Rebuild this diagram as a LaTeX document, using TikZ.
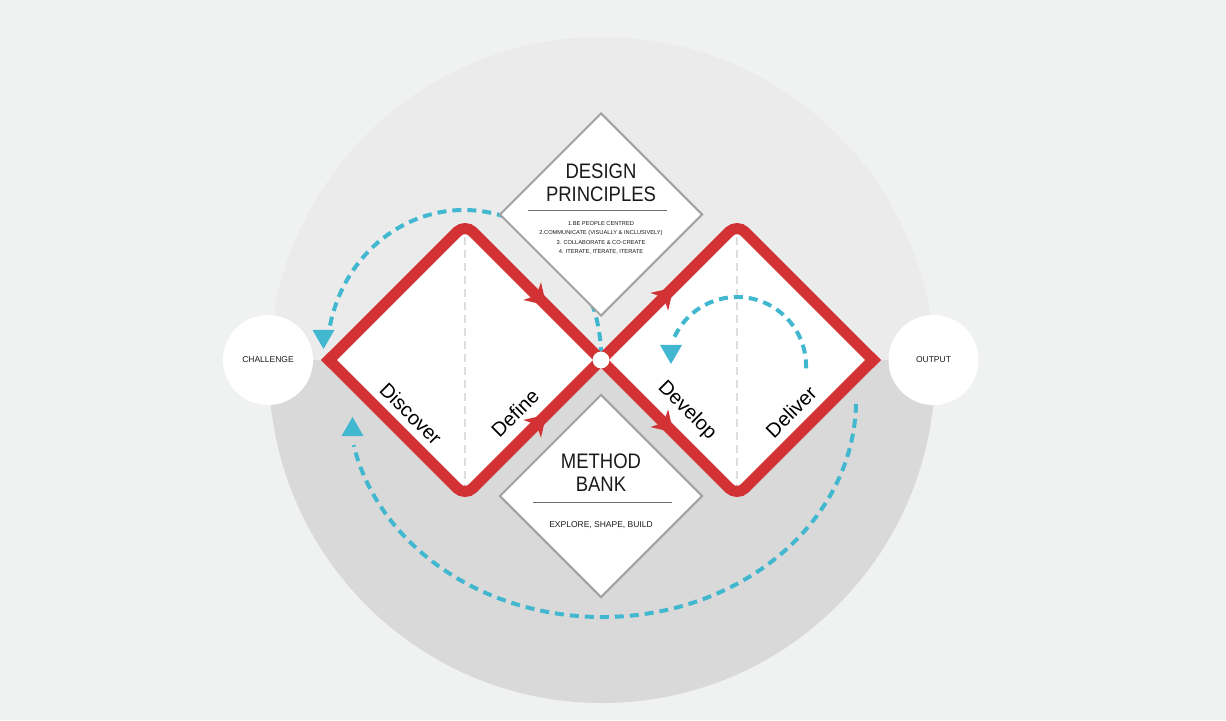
\documentclass[tikz,border=0pt]{standalone}
\usepackage{fontspec}
\setmainfont{Liberation Sans}
\newfontfamily\headfont[FakeStretch=0.88]{Liberation Sans}
\usepackage{tikz}
\usetikzlibrary{arrows.meta}
\usetikzlibrary{decorations.markings}
\usetikzlibrary{shapes.geometric}
\definecolor{bggrey}{RGB}{240,241,241}
\definecolor{ringtop}{RGB}{235,235,236}
\definecolor{ringbottom}{RGB}{217,217,217}
\definecolor{ddred}{RGB}{210,50,52}
\definecolor{loopblue}{RGB}{66,183,208}
\definecolor{panelgrey}{RGB}{162,162,162}
\definecolor{rulegrey}{RGB}{110,110,110}
\definecolor{inkgrey}{RGB}{26,26,26}
\tikzstyle{panel} = [diamond,draw=panelgrey,line width=1pt,fill=white,aspect=1,inner sep=0pt,minimum width=101.5pt,minimum height=101.5pt]
\tikzstyle{endpoint} = [circle,fill=white,inner sep=0pt,minimum size=45pt,text=inkgrey,font=\fontsize{4.25}{5}\selectfont]
\tikzstyle{hubdot} = [circle,fill=white,inner sep=0pt,minimum size=8.4pt]
\tikzstyle{heading} = [anchor=base,text=inkgrey,inner sep=0pt,font=\headfont\fontsize{10.5}{12}\selectfont]
\tikzstyle{listtext} = [text=inkgrey,inner sep=0pt,align=center,font=\fontsize{2.85}{4.67}\selectfont]
\tikzstyle{caption} = [anchor=base,text=inkgrey,inner sep=0pt,font=\fontsize{4.25}{5}\selectfont]
\tikzstyle{phase} = [text=black,inner sep=0pt,font=\fontsize{10}{12}\selectfont]
\tikzstyle{divider} = [draw=rulegrey,line width=0.75pt]
\tikzstyle{midline} = [draw=black!13,line width=0.65pt,dash pattern=on 4pt off 2.5pt]
\tikzstyle{track} = [draw=ddred,line width=5.5pt,line cap=rect,rounded corners=5.5pt,
    postaction=decorate,decoration={markings,
    mark=at position 0.398 with {\arrow{Stealth[length=10pt,width=12.5pt,inset=3pt,line width=0pt]}},
    mark=at position 0.635 with {\arrow{Stealth[length=10pt,width=12.5pt,inset=3pt,line width=0pt]}}}]
\tikzstyle{feedback} = [draw=loopblue,line width=2pt,dash pattern=on 4.5pt off 3pt]
\tikzstyle{loophead} = [regular polygon,regular polygon sides=3,fill=loopblue,inner sep=0pt,minimum size=12.7pt]

\begin{document}
\begin{tikzpicture}[x=0.5pt,y=0.5pt]

% Background and the grey ring
    \useasboundingbox (0,0) rectangle (1226,720);
    \fill[bggrey] (0,0) rectangle (1226,720);
    \begin{scope}
        \clip (602,350) circle[radius=333];
        \fill[ringtop] (0,360) rectangle (1226,720);
        \fill[ringbottom] (0,0) rectangle (1226,360);
    \end{scope}

% Corners of the double diamond
    \coordinate (leftTip) at (329,360);
    \coordinate (leftTop) at (465,496);
    \coordinate (leftBottom) at (465,224);
    \coordinate (cross) at (601,360);
    \coordinate (rightTop) at (737,496);
    \coordinate (rightBottom) at (737,224);
    \coordinate (rightTip) at (873,360);

    \fill[white] (leftTip) -- (leftTop) -- (cross) -- (leftBottom) -- cycle;
    \fill[white] (cross) -- (rightTop) -- (rightTip) -- (rightBottom) -- cycle;
    \draw[midline] (leftTop) -- (leftBottom);
    \draw[midline] (rightTop) -- (rightBottom);

% Feedback loops
    \coordinate (loopAstart) at (601,364);
    \coordinate (loopBstart) at (856,316.2);
    \coordinate (loopCstart) at (806,351.6);
    \draw[feedback] (loopAstart) arc[start angle=0,end angle=168,x radius=137,y radius=146];
    \draw[feedback] (loopBstart) arc[start angle=-1,end angle=-168,x radius=254,y radius=217];
    \draw[feedback] (loopCstart) arc[start angle=-2,end angle=156,radius=69];
    \node[loophead,shape border rotate=180] (headA) at (323.5,383.7) {};
    \node[loophead] (headB) at (352.5,290.3) {};
    \node[loophead,shape border rotate=180] (headC) at (671,368.7) {};

% Red track
    \draw[track] (leftTip) -- (leftTop) -- (rightBottom) -- (rightTip);
    \draw[track] (leftTip) -- (leftBottom) -- (rightTop) -- (rightTip);
    \node[hubdot] (hub) at (cross) {};

% Design principles
    \node[panel] (principles) at (601,505.5) {};
    \node[heading] (principlesA) at (601,541.7) {DESIGN};
    \node[heading] (principlesB) at (601,518.5) {PRINCIPLES};
    \draw[divider] (528,509.3) -- (667,509.3);
    \node[listtext] (principlesList) at (601,482.2) {1.BE PEOPLE CENTRED\\2.COMMUNICATE (VISUALLY \& INCLUSIVELY)\\3. COLLABORATE \& CO-CREATE\\4. ITERATE, ITERATE, ITERATE};

% Method bank
    \node[panel] (methods) at (601,224) {};
    \node[heading] (methodsA) at (601,251.7) {METHOD};
    \node[heading] (methodsB) at (601,228.1) {BANK};
    \draw[divider] (533,217.7) -- (672,217.7);
    \node[caption] (methodsList) at (601,192.9) {EXPLORE, SHAPE, BUILD};

% Start and end
    \node[endpoint] (challenge) at (268,360) {CHALLENGE};
    \node[endpoint] (output) at (933.5,360) {OUTPUT};

% Phase names
    \node[phase,rotate=-45] (discover) at (411,306) {Discover};
    \node[phase,rotate=45] (define) at (515,307) {Define};
    \node[phase,rotate=-45] (develop) at (687,309) {Develop};
    \node[phase,rotate=45] (deliver) at (791,308) {Deliver};

\end{tikzpicture}
\end{document}
